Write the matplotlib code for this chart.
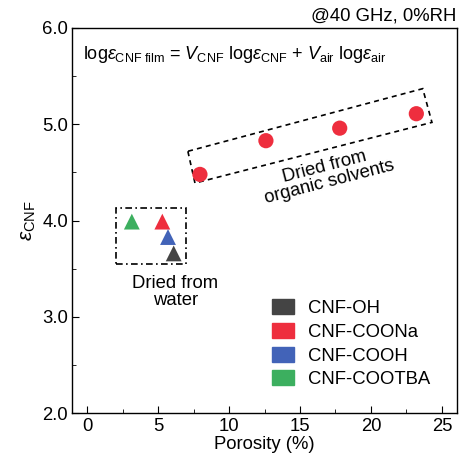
import matplotlib
matplotlib.use("Agg")
import matplotlib.pyplot as plt
from matplotlib.patches import Polygon, Rectangle, Patch
from matplotlib.ticker import MultipleLocator

plt.rcParams["font.family"] = ["Liberation Sans", "DejaVu Sans"]
plt.rcParams["mathtext.fontset"] = "custom"
plt.rcParams["mathtext.rm"] = "Liberation Sans"
plt.rcParams["mathtext.it"] = "Liberation Sans:italic"
plt.rcParams["font.size"] = 13.3

# data
organic_porosity = [7.95, 12.6, 17.8, 23.2]
organic_eps = [4.48, 4.83, 4.96, 5.11]

water_labels = ["CNF-OH", "CNF-COONa", "CNF-COOH", "CNF-COOTBA"]
water_porosity = [6.1, 5.3, 5.7, 3.15]
water_eps = [3.66, 3.99, 3.83, 3.99]
colors = ["#444444", "#EE2E3E", "#4263B8", "#3CAF5F"]

# annotation boxes (data coords)
water_box = (2.05, 3.55, 4.9, 0.58)  # x, y, w, h
organic_box = [(7.1, 4.72), (7.6, 4.39), (24.3, 5.02), (23.65, 5.37)]

fig, ax = plt.subplots(figsize=(4.6, 4.66), dpi=100)
fig.subplots_adjust(left=0.157, right=0.993, top=0.94, bottom=0.113)

ax.scatter(organic_porosity, organic_eps, s=120, color="#EE2E3E", zorder=3,
           edgecolors="none")
for x, y, c in zip(water_porosity, water_eps, colors):
    ax.scatter(x, y, marker="^", s=130, color=c, zorder=3, edgecolors="none")

ax.add_patch(Rectangle(water_box[:2], water_box[2], water_box[3], fill=False,
                       ls=(0, (4, 2, 1, 2)), lw=1.2, ec="black"))
ax.add_patch(Polygon(organic_box, closed=True, fill=False, ls=(0, (3, 2.5)),
                     lw=1.2, ec="black"))

ax.text(6.2, 3.26, "Dried from\nwater", ha="center", va="center",
        linespacing=0.95)
ax.text(16.9, 4.48, "Dried from\norganic solvents", ha="center", va="center",
        rotation=14.5, rotation_mode="anchor", linespacing=0.95)

ax.text(0.028, 0.93,
        r"log$\varepsilon_{\rm CNF\ film}$ = $V_{\rm CNF}$ log$\varepsilon_{\rm CNF}$"
        r" + $V_{\rm air}$ log$\varepsilon_{\rm air}$",
        transform=ax.transAxes, ha="left", va="center", fontsize=13)
ax.text(1.0, 1.01, "@40 GHz, 0%RH", transform=ax.transAxes, ha="right",
        va="bottom")

handles = [Patch(color=c, label=l) for c, l in zip(colors, water_labels)]
ax.legend(handles=handles, loc="lower right", bbox_to_anchor=(0.975, 0.022),
          frameon=False, handlelength=1.2, handleheight=0.85,
          handletextpad=0.75, labelspacing=0.32)

ax.set_xlim(-1.05, 26.05)
ax.set_ylim(2.0, 6.0)
ax.xaxis.set_major_locator(MultipleLocator(5))
ax.xaxis.set_minor_locator(MultipleLocator(2.5))
ax.yaxis.set_major_locator(MultipleLocator(1))
ax.yaxis.set_minor_locator(MultipleLocator(0.5))
ax.yaxis.set_major_formatter(matplotlib.ticker.FormatStrFormatter("%.1f"))
ax.tick_params(which="both", direction="in", top=False, right=False)
ax.tick_params(which="major", length=5, pad=3)
ax.tick_params(which="minor", length=3)
for sp in ax.spines.values():
    sp.set_linewidth(1.0)

ax.set_xlabel("Porosity (%)", labelpad=1)
ax.set_ylabel(r"$\varepsilon_{\rm CNF}$", labelpad=3, fontsize=15)

fig.savefig("out.png", dpi=100)
